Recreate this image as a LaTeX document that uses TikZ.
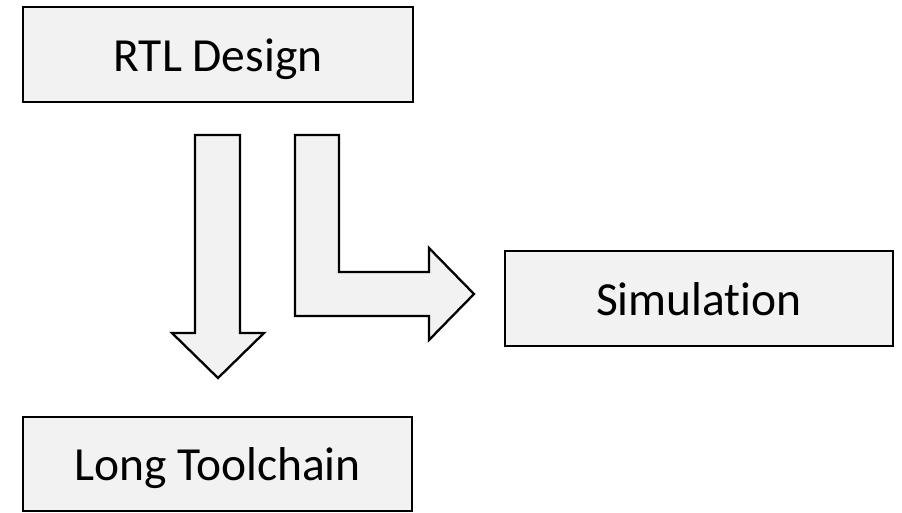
\documentclass[tikz,border=0pt]{standalone}
\usepackage{fontspec}
\setmainfont{Carlito}[Ligatures={NoCommon}]
\definecolor{boxfill}{HTML}{F2F2F2}
\begin{document}
\begin{tikzpicture}[x=1pt,y=-1pt,
  block/.style={draw=black, line width=2.6pt, fill=boxfill, inner sep=0pt,
    font=\fontsize{47.5}{57}\selectfont, text=black,
    text height=33pt, text depth=0pt},
  blockarrow/.style={draw=black, line width=2.3pt, fill=boxfill, line join=miter}]
  \useasboundingbox (0,0) rectangle (902,512);

  % process boxes
  \node[block, minimum width=390pt, minimum height=95pt] (rtl) at (218,54.5) {RTL Design};
  \node[block, minimum width=388pt, minimum height=95pt] (sim) at (699,298.5) {Simulation};
  \node[block, minimum width=389pt, minimum height=94pt] (long) at (217.5,464) {Long Toolchain};

  % straight block arrow down to the toolchain
  \draw[blockarrow] (195,135) -- (240,135) -- (240,333) -- (264,333)
    -- (218,378) -- (172,333) -- (195,333) -- cycle;

  % bent block arrow across to simulation
  \draw[blockarrow] (295,135) -- (339,135) -- (339,272) -- (429,272)
    -- (429,248) -- (474,294) -- (429,340) -- (429,316) -- (295,316) -- cycle;
\end{tikzpicture}
\end{document}
